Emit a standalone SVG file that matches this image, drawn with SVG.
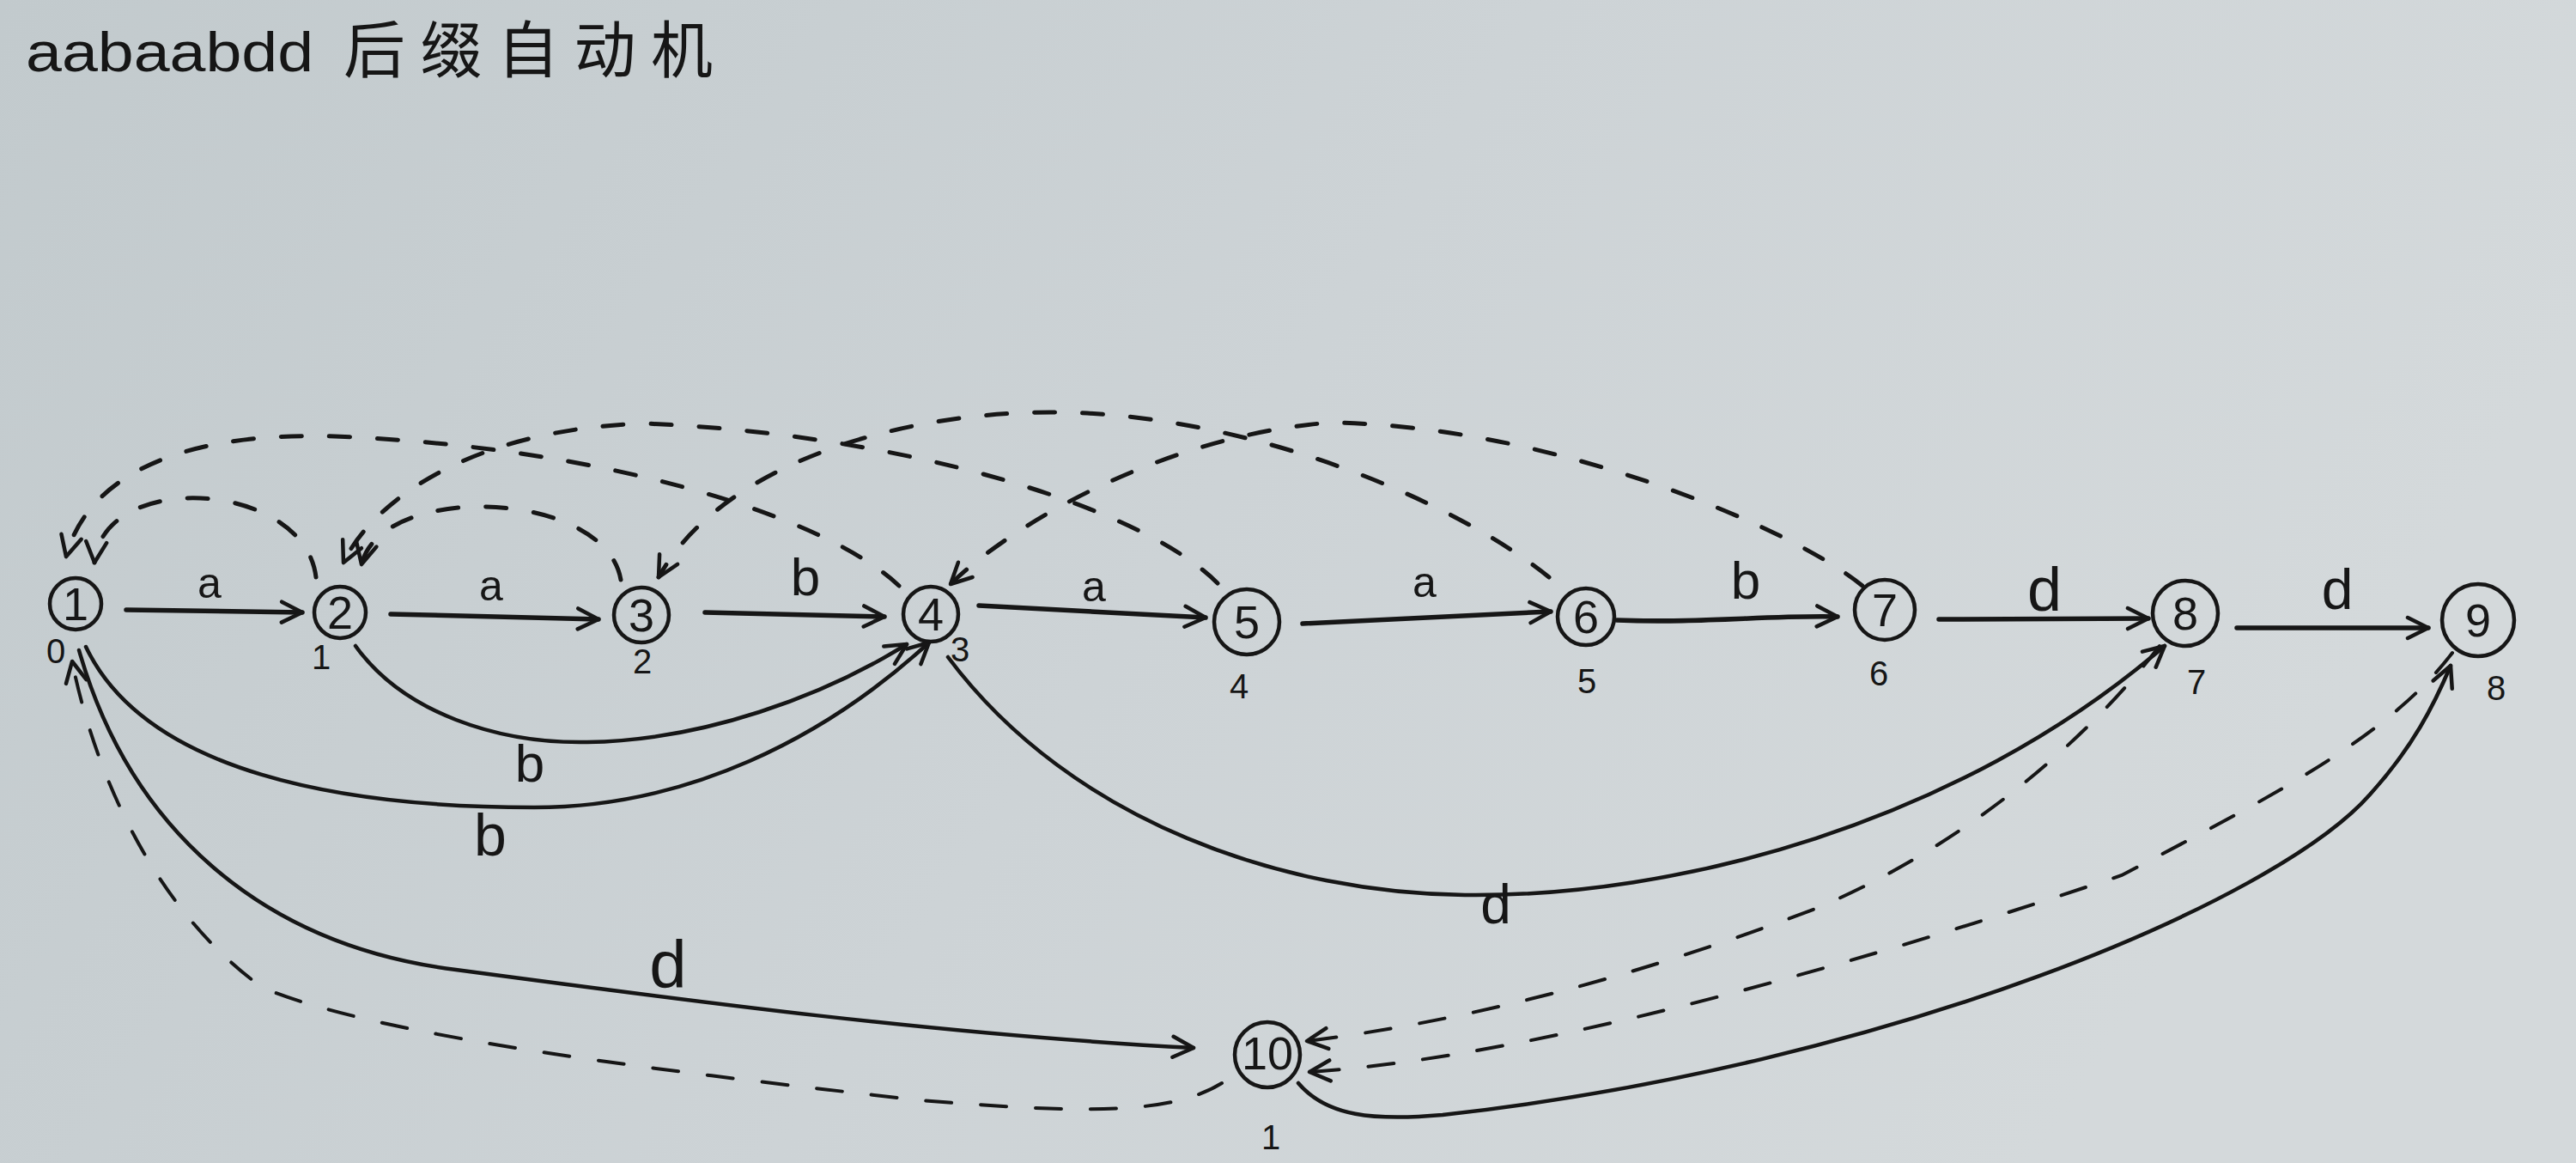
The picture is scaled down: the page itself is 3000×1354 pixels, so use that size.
<svg xmlns="http://www.w3.org/2000/svg" width="3000" height="1354" viewBox="0 0 3000 1354">
<defs>
<linearGradient id="paper" x1="0" y1="0" x2="1" y2="0.3">
<stop offset="0" stop-color="#c2cacd"/>
<stop offset="0.55" stop-color="#cdd3d6"/>
<stop offset="1" stop-color="#d4d9db"/>
</linearGradient>
<marker id="arr" viewBox="0 0 30 30" refX="27" refY="15" markerWidth="30" markerHeight="30" markerUnits="userSpaceOnUse" orient="auto">
<path d="M3,3 L27,15 L3,27" fill="none" stroke="#161616" stroke-width="4.5" stroke-linecap="round" stroke-linejoin="round"/>
</marker>
<style>
.node circle{fill:none;stroke:#161616;stroke-width:4.5}
.num{font-family:"Liberation Sans",Arial,sans-serif;font-size:54px;fill:#161616;text-anchor:middle}
.sub{font-family:"Liberation Sans",Arial,sans-serif;font-size:40px;fill:#161616;text-anchor:middle}
.lab{font-family:"Liberation Sans",Arial,sans-serif;fill:#161616;text-anchor:middle}
.solid{fill:none;stroke:#161616;stroke-width:5.5;stroke-linecap:round;marker-end:url(#arr)}
.curve{fill:none;stroke:#161616;stroke-width:4.5;stroke-linecap:round;marker-end:url(#arr)}
.dash{fill:none;stroke:#161616;stroke-width:5;stroke-linecap:round;stroke-dasharray:24 32;marker-end:url(#arr)}
.dash2{fill:none;stroke:#161616;stroke-width:4;stroke-linecap:round;stroke-dasharray:30 34;marker-end:url(#arr)}
</style>
</defs>
<rect width="3000" height="1354" fill="url(#paper)"/>

<g id="title">
<text x="30" y="83" font-family="'Liberation Sans',Arial,sans-serif" font-size="64" fill="#161616" textLength="335" lengthAdjust="spacingAndGlyphs">aabaabdd</text>
<text x="400" y="84" font-family="'Noto Sans CJK SC','Noto Sans CJK JP',sans-serif" font-size="72" fill="#161616" textLength="430" lengthAdjust="spacing">后缀自动机</text>
</g>

<g id="connectors">
<!-- transitions along the main line -->
<path class="solid" d="M147,710 L352,713"/>
<path class="solid" d="M455,715 L697,721"/>
<path class="solid" d="M821,713 L1030,718"/>
<path class="solid" d="M1140,705 L1404,719"/>
<path class="solid" d="M1517,726 L1806,712"/>
<path class="solid" d="M1883,722 C1980,726 2060,716 2140,718"/>
<path class="solid" d="M2258,721 L2502,720"/>
<path class="solid" d="M2605,731 L2828,731"/>
<!-- lower transitions -->
<path class="curve" d="M414,752 C470,830 580,866 684,864 C820,862 960,810 1056,750"/>
<path class="curve" d="M100,753 C170,900 400,940 622,940 C800,940 960,860 1082,748"/>
<path class="curve" d="M92,757 C150,960 300,1100 531,1129 C800,1165 1100,1205 1390,1220"/>
<path class="curve" d="M1104,765 C1250,960 1500,1040 1706,1042 C1950,1045 2280,960 2521,752"/>
<path class="curve" d="M1512,1261 C1545,1300 1600,1305 1680,1298 C2200,1240 2650,1050 2760,925 C2810,870 2835,820 2854,775"/>
<!-- suffix links (top) -->
<path class="dash" d="M368,672 C355,560 120,545 110,655"/>
<path class="dash" d="M723,675 C705,570 445,560 421,657"/>
<path class="dash" d="M1047,682 C960,600 700,520 390,508 C200,502 100,560 77,648"/>
<path class="dash" d="M1418,679 C1330,590 1050,505 750,493 C540,500 430,590 400,655"/>
<path class="dash" d="M1804,672 C1690,580 1450,482 1232,480 C1050,478 840,540 767,672"/>
<path class="dash" d="M2169,682 C2080,610 1800,495 1550,492 C1370,505 1190,600 1107,680"/>
<!-- suffix links (bottom) -->
<path class="dash2" d="M1423,1261 C1360,1300 1250,1295 1071,1281 C800,1250 450,1210 306,1150 C180,1060 110,900 84,770"/>
<path class="dash2" d="M2515,752 C2440,850 2300,980 2114,1058 C1900,1140 1700,1190 1522,1212"/>
<path class="dash2" d="M2856,760 C2780,860 2640,930 2471,1019 C2200,1110 1800,1230 1525,1248"/>
<!-- edge labels -->
<g id="edge-labels">
<text class="lab" x="244" y="696" font-size="50">a</text>
<text class="lab" x="572" y="699" font-size="50">a</text>
<text class="lab" x="938" y="693" font-size="62">b</text>
<text class="lab" x="1274" y="700" font-size="50">a</text>
<text class="lab" x="1659" y="695" font-size="50">a</text>
<text class="lab" x="2033" y="697" font-size="62">b</text>
<text class="lab" x="2381" y="711" font-size="72">d</text>
<text class="lab" x="2722" y="709" font-size="66">d</text>
<text class="lab" x="617" y="910" font-size="62">b</text>
<text class="lab" x="571" y="996" font-size="68">b</text>
<text class="lab" x="1742" y="1075" font-size="64">d</text>
<text class="lab" x="778" y="1150" font-size="78">d</text>
</g>
</g>

<g id="node-1" class="node"><circle cx="88" cy="703" r="30"/><text class="num" x="88" y="722">1</text><text class="sub" x="65" y="772">0</text></g>
<g id="node-2" class="node"><circle cx="396" cy="713" r="30"/><text class="num" x="396" y="732">2</text><text class="sub" x="374" y="779">1</text></g>
<g id="node-3" class="node"><circle cx="747" cy="716" r="32"/><text class="num" x="747" y="735">3</text><text class="sub" x="748" y="784">2</text></g>
<g id="node-4" class="node"><circle cx="1084" cy="715" r="32"/><text class="num" x="1084" y="734">4</text><text class="sub" x="1118" y="770">3</text></g>
<g id="node-5" class="node"><circle cx="1452" cy="724" r="38"/><text class="num" x="1452" y="743">5</text><text class="sub" x="1443" y="813">4</text></g>
<g id="node-6" class="node"><circle cx="1847" cy="718" r="33"/><text class="num" x="1847" y="737">6</text><text class="sub" x="1848" y="807">5</text></g>
<g id="node-7" class="node"><circle cx="2195" cy="710" r="35"/><text class="num" x="2195" y="729">7</text><text class="sub" x="2188" y="798">6</text></g>
<g id="node-8" class="node"><circle cx="2545" cy="714" r="38"/><text class="num" x="2545" y="733">8</text><text class="sub" x="2558" y="808">7</text></g>
<g id="node-9" class="node"><circle cx="2886" cy="722" r="42"/><text class="num" x="2886" y="741">9</text><text class="sub" x="2907" y="815">8</text></g>
<g id="node-10" class="node"><circle cx="1476" cy="1228" r="38"/><text class="num" x="1476" y="1245" font-size="46">10</text><text class="sub" x="1480" y="1338">1</text></g>
</svg>
